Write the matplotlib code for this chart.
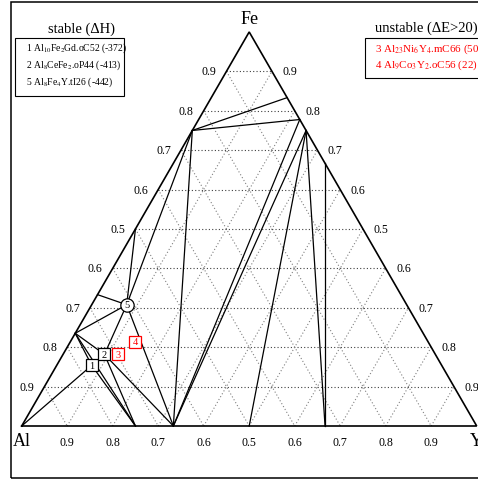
import numpy as np
import matplotlib
matplotlib.use("Agg")
import matplotlib.pyplot as plt
from matplotlib.patches import Rectangle

plt.rcParams["font.family"] = ["Liberation Serif", "DejaVu Serif"]
plt.rcParams["mathtext.fontset"] = "stix"

# ---- phase compositions (atom counts Al, Fe, Y) ----
phase_names = ["Al", "Al13Fe4", "Al2Fe", "AlFe", "AlFe3", "Fe",
               "Fe5Y", "Fe7Y2", "Fe3Y", "Fe2Y", "Y",
               "AlY2", "AlY", "Al2Y", "Al3Y",
               "T1", "T2", "T3", "T4", "T5"]
n_al = [1, 13, 2, 1, 1, 0, 0, 0, 0, 0, 0, 1, 1, 2, 3, 10, 8, 23, 9, 8]
n_fe = [0, 4, 1, 1, 3, 1, 5, 7, 3, 2, 0, 0, 0, 0, 0, 2, 2, 6, 3, 4]
n_y = [0, 0, 0, 0, 0, 0, 1, 2, 1, 1, 1, 2, 1, 1, 1, 1, 1, 4, 2, 1]

# ---- tie lines of the convex hull ----
tie_lines = [
    ("Al", "T1"), ("Al13Fe4", "T1"), ("T1", "Al3Y"), ("Al13Fe4", "Al3Y"),
    ("Al13Fe4", "T2"), ("T2", "Al3Y"), ("T2", "Al2Y"), ("T2", "T5"),
    ("Al13Fe4", "T5"), ("T5", "Al2Y"), ("Al2Fe", "T5"), ("AlFe", "T5"),
    ("AlFe3", "T5"), ("AlFe3", "Al2Y"), ("AlFe3", "Fe5Y"), ("AlFe3", "Fe7Y2"),
    ("Fe7Y2", "Al2Y"), ("Fe3Y", "Al2Y"), ("Fe3Y", "AlY"), ("Fe3Y", "AlY2"),
    ("Fe2Y", "AlY2"),
]

# ---- labelled ternary phases ----
marker_phases = ["T1", "T2", "T3", "T4", "T5"]
marker_labels = ["1", "2", "3", "4", "5"]
marker_stable = [True, True, False, False, True]
marker_shapes = ["s", "s", "s", "s", "o"]

stable_title = "stable (\u0394H)"
stable_entries = ["1 Al$_{10}$Fe$_2$Gd.oC52 (-372)",
                  "2 Al$_8$CeFe$_2$.oP44 (-413)",
                  "5 Al$_8$Fe$_4$Y.tI26 (-442)"]
unstable_title = "unstable (\u0394E>20)"
unstable_entries = ["3 Al$_{23}$Ni$_6$Y$_4$.mC66 (50)",
                    "4 Al$_9$Co$_3$Y$_2$.oC56 (22)"]

grid_fracs = [0.1, 0.2, 0.3, 0.4, 0.5, 0.6, 0.7, 0.8, 0.9]
tick_labels = ["0.9", "0.8", "0.7", "0.6", "0.5", "0.6", "0.7", "0.8", "0.9"]
vertex_labels = ["Al", "Fe", "Y"]

SQ3 = np.sqrt(3.0) / 2.0


def to_xy(al, fe, y):
    s = al + fe + y
    fe, y = fe / s, y / s
    return y + fe / 2.0, fe * SQ3


comp = {n: (a, f, y) for n, a, f, y in zip(phase_names, n_al, n_fe, n_y)}
xy = {n: to_xy(*c) for n, c in comp.items()}

W, H = 478, 481
fig = plt.figure(figsize=(W / 100, H / 100), dpi=100)
ax = fig.add_axes([0, 0, 1, 1])
ax.axis("off")
scale = 455.0
ax.set_xlim(-21.7 / scale, (W - 21.7) / scale)
ax.set_ylim((427 - H) / scale, 427 / scale)


def fx(px):
    return px / W


def fy(py):
    return 1 - py / H


# outer frame
fig.patches.append(Rectangle((fx(10.5), fy(479)), fx(700) - fx(10.5), fy(3) - fy(479),
                             transform=fig.transFigure, fill=False, lw=1.1,
                             edgecolor="black"))

# dotted composition grid
dots = (0, (1, 2))
for t in grid_fracs:
    p = to_xy(1 - t, t, 0); q = to_xy(0, t, 1 - t)
    ax.plot([p[0], q[0]], [p[1], q[1]], color="0.25", lw=0.8, ls=dots, zorder=1)
    p = to_xy(t, 1 - t, 0); q = to_xy(t, 0, 1 - t)
    ax.plot([p[0], q[0]], [p[1], q[1]], color="0.5", lw=0.8, ls=dots, zorder=1)
    p = to_xy(1 - t, 0, t); q = to_xy(0, 1 - t, t)
    ax.plot([p[0], q[0]], [p[1], q[1]], color="0.5", lw=0.8, ls=dots, zorder=1)

# tie lines
for a, b in tie_lines:
    ax.plot([xy[a][0], xy[b][0]], [xy[a][1], xy[b][1]], color="black", lw=0.9, zorder=2)

# triangle outline
corners = [xy["Al"], xy["Fe"], xy["Y"], xy["Al"]]
ax.plot([c[0] for c in corners], [c[1] for c in corners], color="black", lw=1.2,
        zorder=3, solid_joinstyle="miter")

# edge tick labels
tick_fs = 8.6
for t, lab in zip(grid_fracs, tick_labels):
    ax.annotate(lab, to_xy(1 - t, t, 0), xytext=(-10, 0), textcoords="offset pixels",
                ha="right", va="center", fontsize=tick_fs)
    ax.annotate(lab, to_xy(0, t, 1 - t), xytext=(10.5, 0), textcoords="offset pixels",
                ha="left", va="center", fontsize=tick_fs)
    ax.annotate(lab, to_xy(1 - t, 0, t), xytext=(0, -16), textcoords="offset pixels",
                ha="center", va="center", fontsize=tick_fs)

# vertex labels
ax.annotate(vertex_labels[0], xy["Al"], xytext=(0, -15), textcoords="offset pixels",
            ha="center", va="center", fontsize=13)
ax.annotate(vertex_labels[1], xy["Fe"], xytext=(0, 13), textcoords="offset pixels",
            ha="center", va="center", fontsize=13)
ax.annotate(vertex_labels[2], xy["Y"], xytext=(0, -15), textcoords="offset pixels",
            ha="center", va="center", fontsize=13)

# phase markers
for ph, lab, st, shp in zip(marker_phases, marker_labels, marker_stable, marker_shapes):
    col = "black" if st else "red"
    ms = 9.6 if shp == "o" else 8.0
    ax.plot(*xy[ph], marker=shp, ms=ms, mfc="white", mec=col, mew=0.9, zorder=5)
    ax.text(*xy[ph], lab, ha="center", va="center", fontsize=7.5, color=col, zorder=6)

# legend boxes
fig.patches.append(Rectangle((fx(15), fy(97)), fx(124) - fx(15), fy(39) - fy(97),
                             transform=fig.transFigure, fill=False, lw=0.8,
                             edgecolor="black"))
fig.text(fx(82), fy(29), stable_title, ha="center", va="center", fontsize=10.5)
for i, e in enumerate(stable_entries):
    fig.text(fx(26.5), fy(48 + 17 * i), e, ha="left", va="center", fontsize=6.9)

fig.patches.append(Rectangle((fx(364.5), fy(79)), fx(700) - fx(364.5), fy(39) - fy(79),
                             transform=fig.transFigure, fill=False, lw=0.8,
                             edgecolor="black"))
fig.text(fx(375), fy(28.5), unstable_title, ha="left", va="center", fontsize=10.5)
for i, e in enumerate(unstable_entries):
    fig.text(fx(375), fy(49.5 + 16 * i), e, ha="left", va="center", fontsize=7.9,
             color="red")

fig.savefig("out.png", dpi=100)
